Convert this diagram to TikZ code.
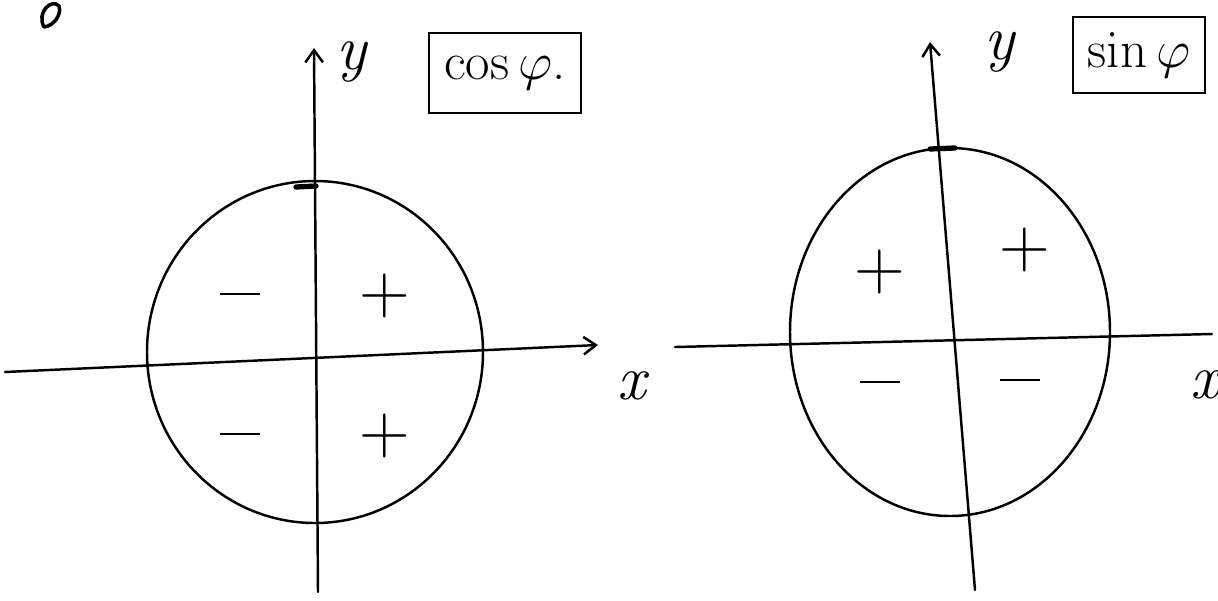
\documentclass[tikz,border=0pt]{standalone}
\usetikzlibrary{arrows.meta}
\begin{document}
\begin{tikzpicture}[x=0.02cm,y=-0.02cm,
  ink/.style={line width=1.4pt,black,line cap=round,line join=round},
  axis/.style={ink,-{Straight Barb[length=7pt,width=10pt]}},
  sign/.style={font=\fontsize{40}{40}\selectfont,inner sep=1pt},
  lab/.style={font=\fontsize{36}{36}\selectfont\itshape},
  boxed/.style={draw,line width=1.4pt,inner sep=2pt}]
\newcommand{\minussign}{\rule{0.8cm}{1.5pt}}
\useasboundingbox (0,0) rectangle (1218,600);
% top-left mark
\draw[ink,line width=2pt] (44,27) .. controls (36,12) and (52,-2) .. (59,6) .. controls (62,14) and (54,26) .. (44,27) -- cycle;
% ---------- left diagram ----------
\coordinate (L1) at (5,372);
\coordinate (L2) at (598,345);
\coordinate (L3) at (318,592);
\coordinate (L4) at (314,48);
\draw[ink] (315,352) ellipse [x radius=168, y radius=171];
\draw[ink,line width=3pt] (296,187) -- (316,186);
\draw[axis] (L1) -- (L2);
\draw[axis] (L3) -- (L4);
\node[lab] (ly) at (352,62) {y};
\node[lab] (lx) at (632,386) {x};
\node[boxed,minimum width=3.04cm,minimum height=1.6cm] (bcos) at (505,73) {\scalebox{1.75}{\LARGE$\cos\varphi$.}};
\node[sign] (s1) at (240,294) {\minussign};
\node[sign] (s2) at (385,296) {+};
\node[sign] (s3) at (240,434) {\minussign};
\node[sign] (s4) at (385,436) {+};
% ---------- right diagram ----------
\coordinate (R1) at (675,347);
\coordinate (R2) at (1212,334);
\coordinate (R3) at (975,590);
\coordinate (R4) at (930,42);
\draw[ink] (950,332) ellipse [x radius=160, y radius=184];
\draw[ink,line width=3pt] (930,149) -- (955,148);
\draw[ink] (R1) -- (R2);
\draw[axis] (R3) -- (R4);
\node[lab] (ry) at (1000,52) {y};
\node[lab] (rx) at (1205,385) {x};
\node[boxed,minimum width=2.64cm,minimum height=1.52cm] (bsin) at (1139,55) {\scalebox{1.75}{\LARGE$\sin\varphi$}};
\node[sign] (t1) at (880,272) {+};
\node[sign] (t2) at (1025,250) {+};
\node[sign] (t3) at (880,382) {\minussign};
\node[sign] (t4) at (1020,380) {\minussign};
\end{tikzpicture}
\end{document}
